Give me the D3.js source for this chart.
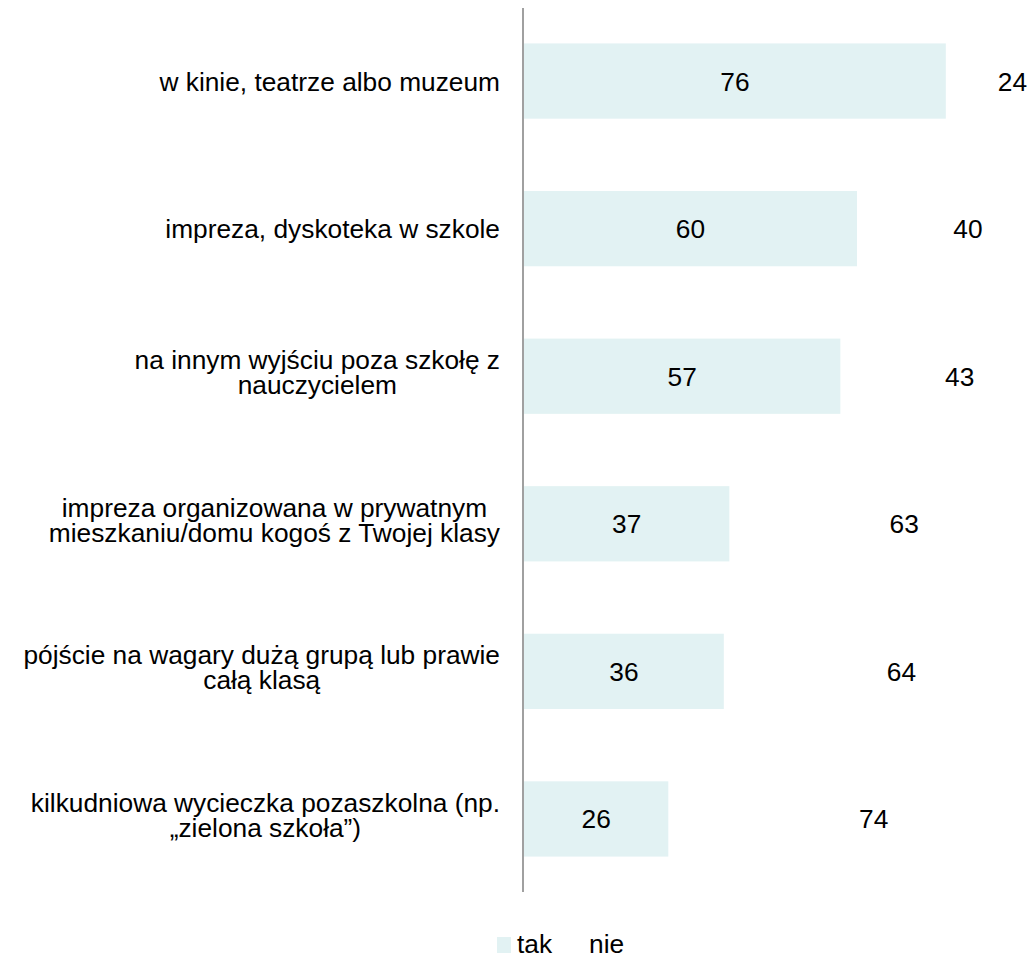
<!DOCTYPE html>
<html>
<head>
<meta charset="utf-8">
<script src="https://cdn.jsdelivr.net/npm/d3@7"></script>
<style>
  body { margin: 0; background: #fff; }
  svg { display: block; font-family: "Liberation Sans", Arial, sans-serif; }
</style>
</head>
<body>
<script>
// data
var categories = [
  ["w kinie, teatrze albo muzeum"],
  ["impreza, dyskoteka w szkole"],
  ["na innym wyjściu poza szkołę z", "nauczycielem"],
  ["impreza organizowana w prywatnym", "mieszkaniu/domu kogoś z Twojej klasy"],
  ["pójście na wagary dużą grupą lub prawie", "całą klasą"],
  ["kilkudniowa wycieczka pozaszkolna (np.", "„zielona szkoła”)"]
];
var tak = [76, 60, 57, 37, 36, 26];
var nie = [24, 40, 43, 63, 64, 74];
var seriesNames = ["tak", "nie"];
var seriesColors = ["#e2f2f3", "none"];

var W = 1031, H = 953;
var fontSize = 26.3;

var svg = d3.select("body").append("svg")
  .attr("width", W)
  .attr("height", H);

var x = d3.scaleLinear().domain([0, 100]).range([524, 1079]);
var y = d3.scaleBand()
  .domain(d3.range(categories.length))
  .range([8, 892])
  .paddingInner(0.49)
  .paddingOuter(0.24);

var rows = categories.map(function(c, i) {
  return { i: i, label: c, tak: tak[i], nie: nie[i] };
});

// tak bars
svg.selectAll("rect.tak").data(rows).enter().append("rect")
  .attr("class", "tak")
  .attr("x", x(0))
  .attr("y", function(d) { return y(d.i); })
  .attr("width", function(d) { return x(d.tak) - x(0); })
  .attr("height", y.bandwidth())
  .attr("fill", seriesColors[0]);

// value labels
svg.selectAll("text.vtak").data(rows).enter().append("text")
  .attr("x", function(d) { return (x(0) + x(d.tak)) / 2; })
  .attr("y", function(d) { return y(d.i) + y.bandwidth() / 2; })
  .attr("dy", "0.36em")
  .attr("text-anchor", "middle")
  .attr("font-size", fontSize)
  .attr("fill", "#000")
  .text(function(d) { return d.tak; });

svg.selectAll("text.vnie").data(rows).enter().append("text")
  .attr("x", function(d) { return (x(d.tak) + x(d.tak + d.nie)) / 2; })
  .attr("y", function(d) { return y(d.i) + y.bandwidth() / 2; })
  .attr("dy", "0.36em")
  .attr("text-anchor", "middle")
  .attr("font-size", fontSize)
  .attr("fill", "#000")
  .text(function(d) { return d.nie; });

// category labels: block right-aligned at the axis, lines centred within it
var lineH = 25;
var labelRight = 500;
svg.selectAll("text.cat").data(rows).enter().append("text")
  .attr("class", "cat")
  .attr("text-anchor", "middle")
  .attr("font-size", fontSize)
  .attr("fill", "#000")
  .each(function(d) {
    var t = d3.select(this);
    var n = d.label.length;
    var cy = y(d.i) + y.bandwidth() / 2 - (n - 1) * lineH / 2 - (n - 1) * 4;
    var spans = d.label.map(function(line, k) {
      return t.append("tspan")
        .attr("y", cy + k * lineH)
        .attr("dy", "0.36em")
        .text(line);
    });
    var maxW = d3.max(spans, function(s) { return s.node().getComputedTextLength(); });
    spans.forEach(function(s) { s.attr("x", labelRight - maxW / 2); });
  });

// vertical axis line
svg.append("line")
  .attr("x1", x(0) - 1).attr("x2", x(0) - 1)
  .attr("y1", 8).attr("y2", 892)
  .attr("stroke", "#a0a0a0")
  .attr("stroke-width", 2);

// legend
var leg = svg.append("g").attr("transform", "translate(497,937)");
leg.append("rect").attr("width", 14).attr("height", 16).attr("fill", seriesColors[0]);
leg.append("text").attr("x", 20).attr("y", 16).attr("font-size", fontSize).text(seriesNames[0]);
leg.append("text").attr("x", 92).attr("y", 16).attr("font-size", fontSize).text(seriesNames[1]);
</script>
</body>
</html>
